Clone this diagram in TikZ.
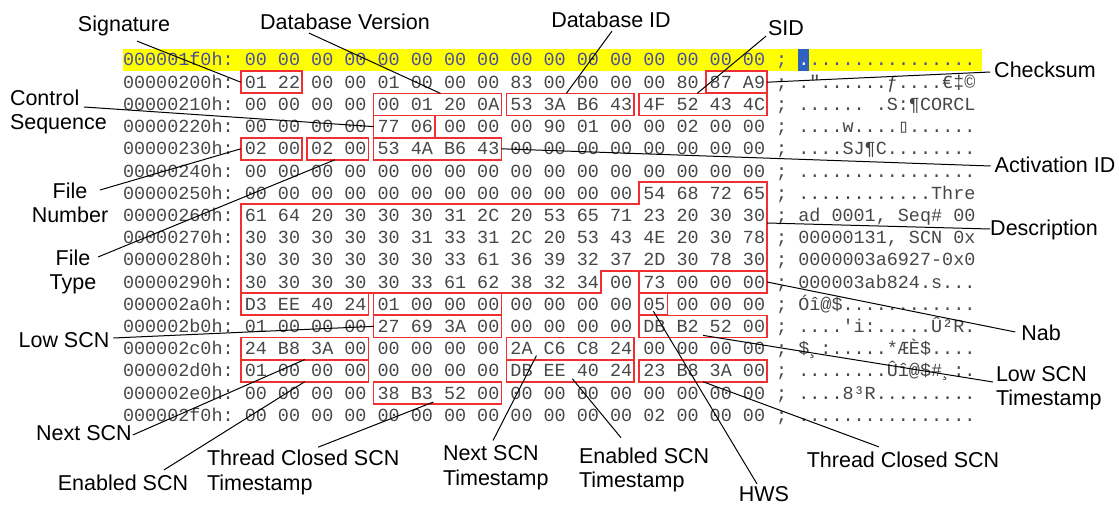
\documentclass[tikz,border=0pt]{standalone}
\usepackage{fontspec}
\setmainfont{Liberation Sans}
\newfontfamily\hexfont{Liberation Mono}
\newfontfamily\boxglyphfont{DejaVu Sans Mono}
\usetikzlibrary{calc}
\definecolor{hexgray}{HTML}{474747}
\definecolor{rowblue}{HTML}{4A4E9A}
\definecolor{hlyellow}{HTML}{FFFF00}
\definecolor{selblue}{HTML}{3060C0}
\definecolor{boxred}{HTML}{F03030}
\newcommand\hexline[3]{\node[hexrow] (#1) at (123,{60+22.2*#2+6}) {#3};}
\newcommand\hexbox[4]{%
  \pgfmathsetmacro\hbw{33.21*(#4-#3)+28.14}%
  \pgfmathsetmacro\hbx{244.77+33.21*#3-4+\hbw/2}%
  \pgfmathsetmacro\hby{60+22.2*#2}%
  \node[hbox, minimum width=\hbw pt, minimum height=22pt] (#1) at (\hbx,\hby) {};}
\begin{document}
\begin{tikzpicture}[x=1pt,y=-1pt,
  hexrow/.style={anchor=base west, inner sep=0, outer sep=0, text=hexgray,
    font=\hexfont\fontsize{18.45}{22}\selectfont\frenchspacing},
  hbox/.style={draw=boxred, line width=1.7pt, inner sep=0, outer sep=0, rectangle},
  lbl/.style={inner sep=0, outer sep=0, text=black, font=\fontsize{21.5}{24.5}\selectfont,
    text height=15.7pt, text depth=4.5pt},
  lbl2/.style={inner sep=0, outer sep=0, text=black, font=\fontsize{21.5}{24.5}\selectfont, align=left},
  conn/.style={draw=black, line width=1pt}]
\useasboundingbox (0,0) rectangle (1119,508);
\fill[white] (0,0) rectangle (1119,508);
% highlighted first row
\fill[hlyellow] (123,49) rectangle (982,71);
\fill[selblue] (798.3,49.5) rectangle (809.4,71);
% hex rows
\node[hexrow, text=rowblue] (r0) at (123,66) {000001f0h: 00 00 00 00 00 00 00 00 00 00 00 00 00 00 00 00 ; \textcolor{white}{.}...............};
\hexline{r1}{1}{00000200h: 01 22 00 00 01 00 00 00 83 00 00 00 00 80 87 A9 ; ."......ƒ....€‡©}
\hexline{r2}{2}{00000210h: 00 00 00 00 00 01 20 0A 53 3A B6 43 4F 52 43 4C ; ...... .S:¶CORCL}
\hexline{r3}{3}{00000220h: 00 00 00 00 77 06 00 00 00 90 01 00 00 02 00 00 ; ....w....{\boxglyphfont ▯}......}
\hexline{r4}{4}{00000230h: 02 00 02 00 53 4A B6 43 00 00 00 00 00 00 00 00 ; ....SJ¶C........}
\hexline{r5}{5}{00000240h: 00 00 00 00 00 00 00 00 00 00 00 00 00 00 00 00 ; ................}
\hexline{r6}{6}{00000250h: 00 00 00 00 00 00 00 00 00 00 00 00 54 68 72 65 ; ............Thre}
\hexline{r7}{7}{00000260h: 61 64 20 30 30 30 31 2C 20 53 65 71 23 20 30 30 ; ad 0001, Seq\# 00}
\hexline{r8}{8}{00000270h: 30 30 30 30 30 31 33 31 2C 20 53 43 4E 20 30 78 ; 00000131, SCN 0x}
\hexline{r9}{9}{00000280h: 30 30 30 30 30 30 33 61 36 39 32 37 2D 30 78 30 ; 0000003a6927-0x0}
\hexline{r10}{10}{00000290h: 30 30 30 30 30 33 61 62 38 32 34 00 73 00 00 00 ; 000003ab824.s...}
\hexline{r11}{11}{000002a0h: D3 EE 40 24 01 00 00 00 00 00 00 00 05 00 00 00 ; Óî@\$............}
\hexline{r12}{12}{000002b0h: 01 00 00 00 27 69 3A 00 00 00 00 00 DB B2 52 00 ; ....'i:.....Û²R.}
\hexline{r13}{13}{000002c0h: 24 B8 3A 00 00 00 00 00 2A C6 C8 24 00 00 00 00 ; \$¸:.....*ÆÈ\$....}
\hexline{r14}{14}{000002d0h: 01 00 00 00 00 00 00 00 DB EE 40 24 23 B8 3A 00 ; ........Ûî@\$\#¸:.}
\hexline{r15}{15}{000002e0h: 00 00 00 00 38 B3 52 00 00 00 00 00 00 00 00 00 ; ....8³R.........}
\hexline{r16}{16}{000002f0h: 00 00 00 00 00 00 00 00 00 00 00 00 02 00 00 00 ; ................}
% boxes
\hexbox{sig}{1}{0}{1}
\hexbox{chk}{1}{14}{15}
\hexbox{dbv}{2}{4}{7}
\hexbox{dbid}{2}{8}{11}
\hexbox{sid}{2}{12}{15}
\hexbox{ctl}{3}{4}{5}
\hexbox{fnum}{4}{0}{1}
\hexbox{ftyp}{4}{2}{3}
\hexbox{act}{4}{4}{7}
\hexbox{nab}{10}{12}{15}
\hexbox{ra}{11}{0}{3}
\hexbox{rb}{11}{4}{7}
\hexbox{hws}{11}{12}{12}
\hexbox{lowscn}{12}{4}{7}
\hexbox{lowts}{12}{12}{15}
\hexbox{nscn}{13}{0}{3}
\hexbox{nts}{13}{8}{11}
\hexbox{escn}{14}{0}{3}
\hexbox{ets}{14}{8}{11}
\hexbox{tcscn}{14}{12}{15}
\hexbox{tcts}{15}{4}{7}
% description region
\draw[boxred, line width=1.7pt] (240.77,204.3) -- (639.29,204.3) -- (639.29,182.2) -- (767.06,182.2)
  -- (767.06,270.9) -- (601.0,270.9) -- (601.0,293) -- (240.77,293) -- cycle;
\coordinate (descR) at (767.06,223);
% labels
\node[lbl] (sigl) at (124,26) {Signature};
\node[lbl] (dbvl) at (345,24) {Database Version};
\node[lbl] (dbidl) at (611,22) {Database ID};
\node[lbl] (sidl) at (786,30) {SID};
\node[lbl] (chkl) at (1045,72) {Checksum};
\node[lbl2, anchor=west] (ctll) at (10,112) {Control\\Sequence};
\node[lbl2, align=center] (fnuml) at (70,203) {File\\Number};
\node[lbl2, align=center] (ftypl) at (73,272) {File\\Type};
\node[lbl] (actl) at (1055,167) {Activation ID};
\node[lbl] (descl) at (1044,230) {Description};
\node[lbl] (nabl) at (1041,335) {Nab};
\node[lbl] (lowl) at (64,342) {Low SCN};
\node[lbl2, anchor=west] (lowtsl) at (996,388) {Low SCN\\Timestamp};
\node[lbl] (nscnl) at (84,435) {Next SCN};
\node[lbl] (escnl) at (123,485) {Enabled SCN};
\node[lbl2, anchor=west] (tctsl) at (207,472.5) {Thread Closed SCN\\Timestamp};
\node[lbl2, anchor=west] (ntsl) at (443,467.5) {Next SCN\\Timestamp};
\node[lbl2, anchor=west] (etsl) at (579,470) {Enabled SCN\\Timestamp};
\node[lbl] (hwsl) at (764,496) {HWS};
\node[lbl] (tcscnl) at (903,462) {Thread Closed SCN};
% connectors
\draw[conn] ($(sigl.south)+(13,5)$) -- (sig.west);
\draw[conn] ($(dbvl.south)+(-36,-1)$) -- ($(dbv.north)+(3,0)$);
\draw[conn] ($(dbidl.south)+(1,-1)$) -- ($(dbid.north)+(-4,0)$);
\draw[conn] ($(sidl.south west)+(-2,-4)$) -- ($(sid.north)+(-6,0)$);
\draw[conn] (chk.east) -- ($(chkl.west)+(-4,0)$);
\draw[conn] ($(ctll.west)+(74,-5)$) -- (ctl.west);
\draw[conn] ($(fnuml.center)+(30,-13)$) -- (fnum.west);
\draw[conn] ($(ftypl.center)+(25,-15)$) -- ($(ftyp.south)+(-3,0)$);
\draw[conn] (act.east) -- ($(actl.west)+(-4,-1)$);
\draw[conn] (descR) -- ($(descl.west)+(0,-1)$);
\draw[conn] (nab.east) -- ($(nabl.west)+(-6,-3)$);
\draw[conn] ($(lowl.east)+(4,-4)$) -- (lowscn.west);
\draw[conn] ($(lowts.south)+(0,-2)$) -- ($(lowtsl.west)+(-3,-6)$);
\draw[conn] ($(nscnl.east)+(1,0)$) -- (nscn.south);
\draw[conn] ($(escnl.north)+(41,-5)$) -- (escn.south);
\draw[conn] ($(tctsl.north west)+(111,-3)$) -- ($(tcts.south)+(-4,-2)$);
\draw[conn] ($(ntsl.north west)+(50,-5)$) -- ($(nts.south west)+(30,-4)$);
\draw[conn] ($(etsl.north west)+(42,-10)$) -- ($(ets.south)+(2,-3)$);
\draw[conn] ($(hwsl.north)+(-7,-2)$) -- ($(hws.south)+(0,-4)$);
\draw[conn] ($(tcscnl.north)+(-24,-5)$) -- (tcscn.south);
\end{tikzpicture}
\end{document}
